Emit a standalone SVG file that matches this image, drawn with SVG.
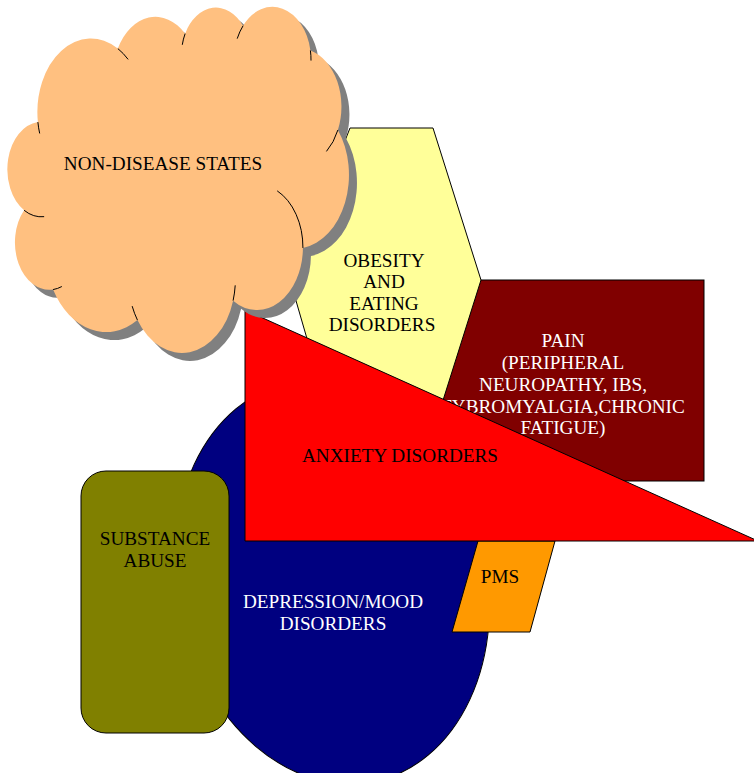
<svg xmlns="http://www.w3.org/2000/svg" width="754" height="773" viewBox="0 0 754 773">
<style>
.s{stroke:#000;stroke-width:1}
text{font-family:"Liberation Serif","Times New Roman",serif;font-size:19.2px;text-anchor:middle}
.w{fill:#fff}
.k{fill:#000}
.cl{vector-effect:non-scaling-stroke}
</style>
<defs>
<path id="cloudPath" d="M3900,14370 A6753,9190 0 0 1 14000,5192 A5333,7267 0 0 1 22500,3331 A4365,5945 0 0 1 29821,2339 A4857,6595 0 0 1 38324,5426 A5333,7273 0 0 1 41798,15354 A6775,9220 0 0 1 37381,30089 A5785,7867 0 0 1 28560,36661 A6752,9215 0 0 1 16478,39090 A7720,10543 0 0 1 5819,35281 A4360,5918 0 0 1 2160,25381 A4345,5945 0 0 1 3900,14370 Z"/>
</defs>
<rect width="754" height="773" fill="#fff"/>
<g id="pain">
<rect x="422" y="280" width="282" height="201" fill="#800000" class="s"/>
<text class="w" x="563" y="347">PAIN</text>
<text class="w" x="563" y="369">(PERIPHERAL</text>
<text class="w" x="563" y="391">NEUROPATHY, IBS,</text>
<text class="w" x="563" y="413">FYBROMYALGIA,CHRONIC</text>
<text class="w" x="563" y="434">FATIGUE)</text>
</g>
<g id="obesity">
<polygon points="350,128 433,128 481,280 433,432 334,432 290,280" fill="#FFFF99" class="s"/>
<text class="k" x="384" y="267">OBESITY</text>
<text class="k" x="384" y="288">AND</text>
<text class="k" x="384" y="310">EATING</text>
<text class="k" x="382" y="331">DISORDERS</text>
</g>
<g id="depression">
<ellipse cx="332" cy="582" rx="155" ry="204" transform="rotate(-12.3 332 582)" fill="#000080" class="s"/>
<text class="w" x="333" y="608">DEPRESSION/MOOD</text>
<text class="w" x="333" y="630">DISORDERS</text>
</g>
<g id="pms">
<polygon points="478,541 555,541 530,632 452,632" fill="#FF9900" class="s"/>
<text class="k" x="500" y="583">PMS</text>
</g>
<g id="anxiety">
<polygon points="245,310 758,541 245,541" fill="#FF0000" class="s"/>
<text class="k" x="400" y="462">ANXIETY DISORDERS</text>
</g>
<g id="substance">
<rect x="81" y="471" width="148" height="262" rx="25" ry="25" fill="#808000" class="s"/>
<text class="k" x="155" y="545">SUBSTANCE</text>
<text class="k" x="155" y="567">ABUSE</text>
</g>
<g id="cloud">
<use href="#cloudPath" transform="translate(15,15) scale(0.0079167,0.0080093)" fill="#808080"/>
<use href="#cloudPath" transform="translate(7,7) scale(0.0079167,0.0080093)" fill="#FFC080" stroke="#000" stroke-width="1" class="cl"/>
<path transform="translate(7,7) scale(0.0079167,0.0080093)" fill="none" stroke="#000" stroke-width="1" vector-effect="non-scaling-stroke" d="M4693,26177 A4345,5945 0 0 1 2160,25381 M6928,34899 A4360,5918 0 0 1 5819,35281 M16478,39090 A6752,9215 0 0 1 15810,37349 M28827,34751 A6752,9215 0 0 1 28560,36661 M34129,22954 A5785,7867 0 0 1 37381,30089 M41798,15354 A5333,7273 0 0 1 40350,18029 M38324,5426 A4857,6595 0 0 1 38401,6691 M29078,3952 A4857,6595 0 0 1 29821,2339 M22141,4720 A4365,5945 0 0 1 22500,3331 M14000,5192 A6753,9190 0 0 1 15300,6540 M4127,15789 A6753,9190 0 0 1 3900,14370"/>
<text class="k" x="163" y="170">NON-DISEASE STATES</text>
</g>
</svg>
